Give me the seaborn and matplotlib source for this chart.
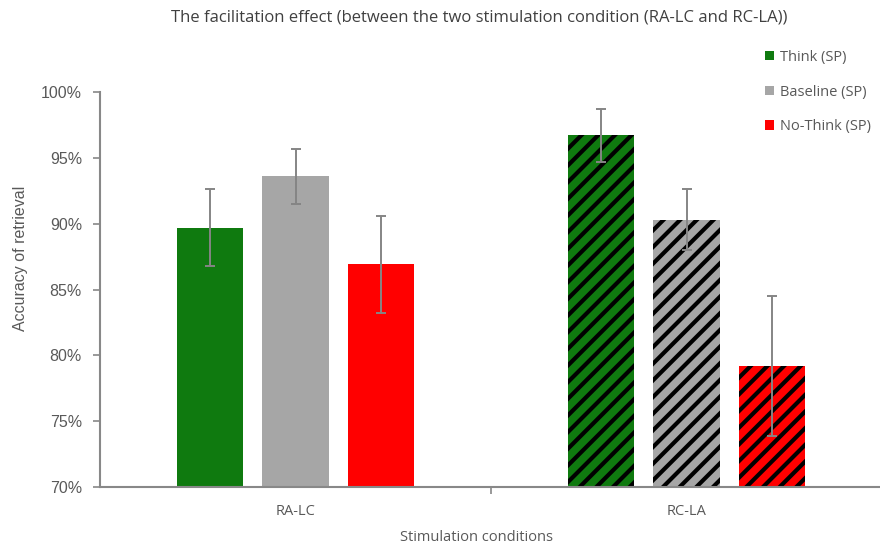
import matplotlib
matplotlib.use("Agg")
import matplotlib.pyplot as plt
import seaborn as sns
import pandas as pd
import numpy as np
from matplotlib.patches import Patch

# ---- data ----
stimulations = ["RA-LC", "RC-LA"]
conditions = ["Think (SP)", "Baseline (SP)", "No-Think (SP)"]
think_vals = [89.7, 96.7]
baseline_vals = [93.6, 90.3]
nothink_vals = [86.9, 79.2]
think_err = [2.9, 2.0]
baseline_err = [2.1, 2.3]
nothink_err = [3.7, 5.3]
colors = ["#0f7a0f", "#a6a6a6", "#ff0000"]

rows = []
for cond, vals, errs in zip(conditions, [think_vals, baseline_vals, nothink_vals],
                            [think_err, baseline_err, nothink_err]):
    for s, v, e in zip(stimulations, vals, errs):
        rows.append({"stim": s, "cond": cond, "acc": v, "err": e})
df = pd.DataFrame(rows)

sns.set_style("white")
plt.rcParams["hatch.linewidth"] = 3.0
plt.rcParams["hatch.color"] = "black"

fig = plt.figure(figsize=(8.8, 5.49), dpi=100)
ax = fig.add_axes([100/880, 1-487/549, 782/880, (487-92)/549])

sns.barplot(data=df, x="stim", y="acc", hue="cond", order=stimulations,
            hue_order=conditions, palette=colors, errorbar=None,
            width=0.656, gap=0.224, saturation=1, legend=False, ax=ax,
            linewidth=0)

bar_containers = list(ax.containers)
for ci, cont in enumerate(bar_containers):
    cond = conditions[ci]
    sub = df[df["cond"] == cond].set_index("stim").loc[stimulations]
    xs = [b.get_x() + b.get_width()/2 for b in cont]
    ax.errorbar(xs, sub["acc"].values, yerr=sub["err"].values, fmt="none",
                ecolor="#858585", elinewidth=1.4, capsize=3.3, capthick=1.4, zorder=3)
    for si, b in enumerate(cont):
        if stimulations[si] == "RC-LA":
            b.set_hatch("//")
            b.set_edgecolor("black")
            b.set_linewidth(0)

ax.set_ylim(70, 100)
ax.set_xlim(-0.5, 1.5)
ax.set_yticks(np.arange(70, 101, 5))
ax.set_yticklabels([f"{v}%" for v in range(70, 101, 5)], fontsize=11.5,
                   color="#595959", family="Liberation Sans")
ax.set_xticks([0, 1])
ax.set_xticklabels(stimulations, fontsize=10.5, color="#595959", family="Open Sans")
ax.set_xticks([0.5], minor=True)
ax.tick_params(axis="x", which="major", length=0, pad=12)
ax.tick_params(axis="x", which="minor", length=5, color="#888888", width=1.2,
               direction="out", bottom=True)
ax.tick_params(axis="y", which="major", length=5, color="#888888", width=1.2,
               direction="out", pad=8, left=True)

for s in ["top", "right"]:
    ax.spines[s].set_visible(False)
for s in ["left", "bottom"]:
    ax.spines[s].set_color("#888888")
    ax.spines[s].set_linewidth(1.5)

ax.set_ylabel("Accuracy of retrieval", fontsize=11.5, color="#595959",
              family="Liberation Sans")
ax.yaxis.label.set_va("center")
ax.yaxis.set_label_coords(-0.102, 0.58)
ax.set_xlabel("Stimulation conditions", fontsize=10.5, color="#595959",
              family="Open Sans")
ax.xaxis.label.set_va("center")
ax.xaxis.set_label_coords(0.481, -0.127)

fig.text(479/880, 1-17/549, "The facilitation effect (between the two stimulation condition (RA-LC and RC-LA))",
         ha="center", va="center", fontsize=12, color="#404040", family="Open Sans")

handles = [Patch(facecolor=c, edgecolor="none", label=l) for c, l in zip(colors, conditions)]
fig.legend(handles=handles, loc="upper left", bbox_to_anchor=(759/880, 1-44/549),
           frameon=False, labelspacing=1.35, handlelength=0.62,
           handleheight=0.62, handletextpad=0.4, borderaxespad=0,
           prop={"family": "Open Sans", "size": 10.5}, labelcolor="#595959")

fig.savefig("out.png", dpi=100)
